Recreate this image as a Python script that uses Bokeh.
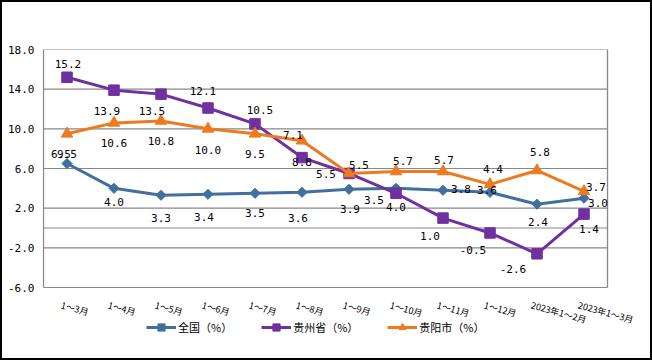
from bokeh.plotting import figure
from bokeh.models import (ColumnDataSource, LabelSet, Range1d, FixedTicker,
                          PrintfTickFormatter, Legend, LegendItem)
from bokeh.core.properties import value
from bokeh.embed import file_html
from bokeh.resources import INLINE
import math

# ---- data ----
categories = ["1～3月", "1～4月", "1～5月", "1～6月", "1～7月", "1～8月", "1～9月",
              "1～10月", "1～11月", "1～12月", "2023年1～2月", "2023年1～3月"]
national = [6.5, 4.0, 3.3, 3.4, 3.5, 3.6, 3.9, 4.0, 3.8, 3.6, 2.4, 3.0]
guizhou = [15.2, 13.9, 13.5, 12.1, 10.5, 7.1, 5.5, 3.5, 1.0, -0.5, -2.6, 1.4]
guiyang = [9.5, 10.6, 10.8, 10.0, 9.5, 8.8, 5.5, 5.7, 5.7, 4.4, 5.8, 3.7]
series_names = ["全国（%）", "贵州省（%）", "贵阳市（%）"]
y_ticks = [-6, -2, 2, 6, 10, 14, 18]

# ---- label placement (pixels: dx right, dy down) ----
national_off = [(-6, -10), (0, 14), (0, 23), (-4, 23), (0, 20), (-4, 26), (1, 20), (0, 19),
                (18, -1), (-3, -2), (1, 18), (14, 5)]
guizhou_off = [(1, -13), (-7, 21), (-9, 17), (-5, -17), (5, -14), (-9, -23), (-23, 1), (-22, 7),
               (-13, 18), (-17, 17), (-24, 15), (5, 15)]
guiyang_off = [(0, 20), (0, 20), (0, 20), (0, 21), (0, 20), (0, 21), (10, -8), (7, -10),
               (1, -11), (3, -15), (3, -18), (12, -4)]

colors = ["#41709F", "#7030A0", "#EE7A1F"]
GRID = "#888888"

# ---- layout (pixels) ----
W, H = 652, 360
LEFT, RIGHT, TOP, BOTTOM = 42, 2, 49, 15          # canvas borders around the frame
CAT_W = 47                                        # pixels per category
PLOT_X0 = 43                                      # left edge of plot area
PLOT_H = 238                                      # plot-area height for the y span
frame_w = W - LEFT - RIGHT
frame_h = H - TOP - BOTTOM
n = len(categories)
xs = list(range(n))
x_start = -0.5 - (PLOT_X0 - LEFT) / CAT_W
x_end = x_start + frame_w / CAT_W
ppu = PLOT_H / (y_ticks[-1] - y_ticks[0])
y_low = y_ticks[-1] - frame_h / ppu

p = figure(x_range=Range1d(x_start, x_end), y_range=Range1d(y_low, y_ticks[-1]),
           width=W, height=H, x_axis_location=None,
           min_border_left=LEFT, min_border_right=RIGHT, min_border_top=TOP,
           min_border_bottom=BOTTOM,
           output_backend="svg", toolbar_location=None, background_fill_color="white",
           border_fill_color="white")
p.stylesheets = [":host { position: relative; } "
                 ":host::after { content: ''; position: absolute; left: 0; top: 0; right: 0; "
                 "bottom: 0; border: 2px solid black; pointer-events: none; z-index: 100; }"]
p.outline_line_color = None
p.xgrid.visible = False
p.ygrid.visible = False

p.yaxis.ticker = FixedTicker(ticks=y_ticks)
p.yaxis.formatter = PrintfTickFormatter(format="%.1f")
p.yaxis.axis_line_color = None
p.yaxis.major_tick_line_color = None
p.yaxis.minor_tick_line_color = None
p.yaxis.major_tick_out = 0
p.yaxis.major_label_standoff = 8
p.yaxis.major_label_text_font = "DejaVu Sans Mono"
p.yaxis.major_label_text_font_size = "11px"
p.yaxis.major_label_text_color = "black"

# plot-area gridlines, zero line and box edges (from the tick list and category count)
x_lo, x_hi = -0.5, n - 0.5
h_lines = y_ticks + [0]
p.segment(x0=[x_lo] * len(h_lines), y0=h_lines, x1=[x_hi] * len(h_lines), y1=h_lines,
          line_color=GRID, line_width=1.2)
p.segment(x0=[x_lo, x_hi], y0=[y_ticks[0]] * 2, x1=[x_lo, x_hi], y1=[y_ticks[-1]] * 2,
          line_color=GRID, line_width=1.3)

items = []
specs = [(national, "square", 7.2, math.pi / 4), (guizhou, "square", 10.5, 0.0),
         (guiyang, "triangle", 11.5, 0.0)]
for (vals, marker, size, ang), name, col in zip(specs, series_names, colors):
    src = ColumnDataSource(dict(x=xs, y=vals))
    ln = p.line("x", "y", source=src, line_color=col, line_width=3)
    sc = p.scatter("x", "y", source=src, marker=marker, size=size, angle=ang,
                   fill_color=col, line_color=col)
    items.append(LegendItem(label=value(name), renderers=[ln, sc]))

for vals, offs in [(national, national_off), (guizhou, guizhou_off), (guiyang, guiyang_off)]:
    src = ColumnDataSource(dict(x=xs, y=vals, text=[f"{v:.1f}" for v in vals],
                                dx=[o[0] for o in offs], dy=[-o[1] for o in offs]))
    p.add_layout(LabelSet(x="x", y="y", text="text", source=src, x_offset="dx", y_offset="dy",
                          text_align="center", text_baseline="middle",
                          text_font=value("DejaVu Sans Mono"), text_font_size="11px",
                          text_color="black"))

# category labels, slanted, under the plot area
cat_src = ColumnDataSource(dict(x=xs, y=[y_ticks[0]] * n, text=categories))
p.add_layout(LabelSet(x="x", y="y", text="text", source=cat_src, x_offset=-4, y_offset=-11,
                      angle=-0.27, text_align="left", text_baseline="top",
                      text_font=value("Noto Sans CJK JP"), text_font_size="9px",
                      text_color="black"))

legend = Legend(items=items, location=(104, 9), orientation="horizontal",
                glyph_width=30, glyph_height=18, label_height=18, label_standoff=2,
                spacing=29, padding=0, margin=0, border_line_alpha=0,
                background_fill_alpha=0, label_text_font="Noto Sans CJK SC",
                label_text_font_size="11px", label_text_color="black")
p.add_layout(legend, "center")

open("out.html", "w").write(file_html(p, INLINE))
